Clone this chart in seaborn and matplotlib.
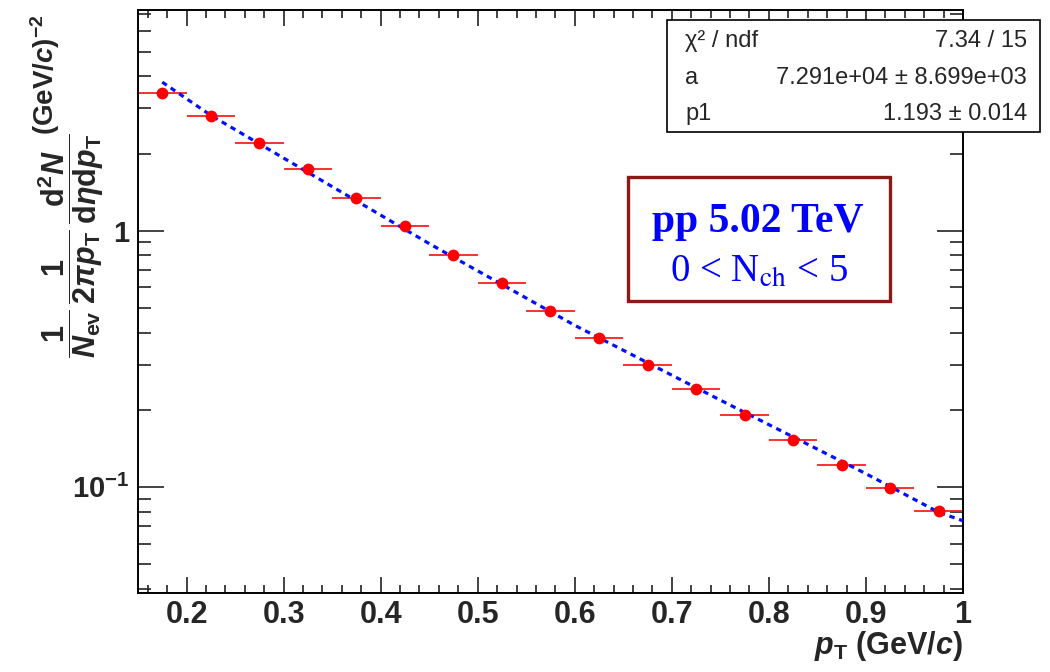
import numpy as np
import pandas as pd
import matplotlib
matplotlib.use("Agg")
import matplotlib.pyplot as plt
import seaborn as sns
from matplotlib.ticker import FixedLocator, FixedFormatter, LogLocator, NullFormatter, MultipleLocator
from matplotlib.patches import Rectangle

# ---------------- data ----------------
pt_centers = [0.175, 0.225, 0.275, 0.325, 0.375, 0.425, 0.475, 0.525, 0.575,
              0.625, 0.675, 0.725, 0.775, 0.825, 0.875, 0.925, 0.975]
pt_halfwidth = [0.025] * 17
yield_vals = [3.44, 2.80, 2.20, 1.74, 1.34, 1.046, 0.806, 0.622, 0.484,
              0.380, 0.298, 0.240, 0.191, 0.152, 0.122, 0.099, 0.0807]

fit_pt = [0.175, 0.225, 0.30, 0.45, 0.60, 0.75, 0.90, 0.975, 1.0]
fit_vals = [3.80, 2.82, 1.92, 0.89, 0.427, 0.218, 0.1125, 0.0795, 0.0737]

x_ticks = [0.2, 0.3, 0.4, 0.5, 0.6, 0.7, 0.8, 0.9, 1.0]
x_ticklabels = ["0.2", "0.3", "0.4", "0.5", "0.6", "0.7", "0.8", "0.9", "1"]
y_ticks = [0.1, 1.0]
y_ticklabels = [r"$10^{-1}$", "1"]

stats_rows = [("χ² / ndf", "7.34 / 15"),
              ("a", "7.291e+04 ± 8.699e+03"),
              ("p1", "1.193 ± 0.014")]
label_line1 = "pp 5.02 TeV"
label_line2 = r"0 < N$_{\mathrm{ch}}$ < 5"

ylabel_frac = (r"$\dfrac{1}{N_{\mathrm{ev}}}\,\dfrac{1}{2\pi p_{\mathrm{T}}}\,"
               r"\dfrac{\mathrm{d}^2N}{\mathrm{d}\eta\mathrm{d}p_{\mathrm{T}}}$")
ylabel_units = r"$\mathrm{(GeV/}c\mathrm{)}^{-2}$"
xlabel_text = r"$p_{\mathrm{T}}$ (GeV/$c$)"

# ---------------- style ----------------
sns.set_style("ticks")
plt.rcParams["font.family"] = ["Liberation Sans", "DejaVu Sans"]
plt.rcParams["mathtext.fontset"] = "custom"
plt.rcParams["mathtext.rm"] = "Liberation Sans:bold"
plt.rcParams["mathtext.bf"] = "Liberation Sans:bold"
plt.rcParams["mathtext.it"] = "Liberation Sans:bold:italic"
plt.rcParams["mathtext.sf"] = "Liberation Sans:bold"

fig = plt.figure(figsize=(10.5, 6.72), dpi=100)
W, H = 1050, 672
x0, x1, y0, y1 = 138, 963, 9.5, 593
ax = fig.add_axes([x0 / W, 1 - y1 / H, (x1 - x0) / W, (y1 - y0) / H])

df = pd.DataFrame({"pt": pt_centers, "y": yield_vals, "xerr": pt_halfwidth})
fit_df = pd.DataFrame({"pt": fit_pt, "y": fit_vals})

ax.errorbar(df["pt"], df["y"], xerr=df["xerr"], fmt="none", ecolor="#ff2020",
            elinewidth=1.3, capsize=0, zorder=2)
sns.lineplot(data=fit_df, x="pt", y="y", ax=ax, color="#0010ff", lw=2.3,
             dashes=False, zorder=3, legend=False)
ax.lines[-1].set_dashes((1.7, 1.5))
sns.scatterplot(data=df, x="pt", y="y", ax=ax, color="#ff0000", s=72,
                linewidth=0, zorder=4, legend=False)

ax.set_yscale("log")
ax.set_xlim(0.15, 1.0)
ax.set_ylim(0.0385, 7.3)

ax.xaxis.set_major_locator(FixedLocator(x_ticks))
ax.xaxis.set_major_formatter(FixedFormatter(x_ticklabels))
ax.xaxis.set_minor_locator(MultipleLocator(0.02))
ax.yaxis.set_major_locator(FixedLocator(y_ticks))
ax.yaxis.set_major_formatter(FixedFormatter(y_ticklabels))
ax.yaxis.set_minor_locator(LogLocator(base=10, subs=np.arange(2, 10), numticks=20))
ax.yaxis.set_minor_formatter(NullFormatter())

for s in ax.spines.values():
    s.set_visible(True)
    s.set_linewidth(1.4)
    s.set_color("black")

ax.tick_params(axis="both", which="both", direction="in", top=True, right=True,
               color="#222222", width=1.2)
ax.tick_params(axis="x", which="major", length=11.5, pad=5)
ax.tick_params(axis="x", which="minor", length=5.8)
ax.tick_params(axis="y", which="major", length=18.7, pad=6)
ax.tick_params(axis="y", which="minor", length=9.4)

for lab in ax.get_xticklabels():
    lab.set_fontfamily(["Liberation Sans Narrow", "Liberation Sans"])
    lab.set_fontweight("bold")
    lab.set_fontsize(22)
for lab in ax.get_yticklabels():
    lab.set_fontweight("bold")
    lab.set_fontsize(21)

ax.set_xlabel(xlabel_text, fontsize=22, fontweight="bold", loc="right")
ax.xaxis.set_label_coords(1.0, -0.062)
ax.set_ylabel("")

# y-axis title, in two rotated pieces (fractions at full size, units after)
fig.text(71 / W, 1 - 133 / H, ylabel_frac, rotation=90, rotation_mode="anchor",
         ha="right", va="center", fontsize=22)
fig.text(45 / W, 1 - 14 / H, ylabel_units, rotation=90, rotation_mode="anchor",
         ha="right", va="center", fontsize=20)

# ---------------- stats box ----------------
bx0, by0, bx1, by1 = 667, 20, 1040, 132
fig.patches.append(Rectangle((bx0 / W, 1 - by1 / H), (bx1 - bx0) / W, (by1 - by0) / H,
                             transform=fig.transFigure, facecolor="white",
                             edgecolor="black", lw=1.2, zorder=5))
row_baselines = [47, 84, 120]
for (lt, rt), yb in zip(stats_rows, row_baselines):
    fig.text(685 / W, 1 - yb / H, lt, ha="left", va="baseline", fontsize=17,
             family=["Liberation Sans", "DejaVu Sans"], zorder=6)
    fig.text(1027 / W, 1 - yb / H, rt, ha="right", va="baseline", fontsize=17,
             family=["Liberation Sans", "DejaVu Sans"], zorder=6)

# ---------------- label box ----------------
lx0, ly0, lx1, ly1 = 628, 177, 890, 301
fig.patches.append(Rectangle((lx0 / W, 1 - ly1 / H), (lx1 - lx0) / W, (ly1 - ly0) / H,
                             transform=fig.transFigure, facecolor="white",
                             edgecolor="#8a1a16", lw=2.4, zorder=5))
fig.text(758 / W, 1 - 231.5 / H, label_line1, ha="center", va="baseline",
         fontsize=30, fontweight="bold", color="#0000ff",
         family=["Liberation Serif", "DejaVu Serif"], zorder=6)
fig.text(759 / W, 1 - 281.5 / H, label_line2, ha="center", va="baseline",
         fontsize=28, color="#0000ff", family=["Liberation Serif", "DejaVu Serif"],
         math_fontfamily="stix", zorder=6)

fig.savefig("out.png", dpi=100)
